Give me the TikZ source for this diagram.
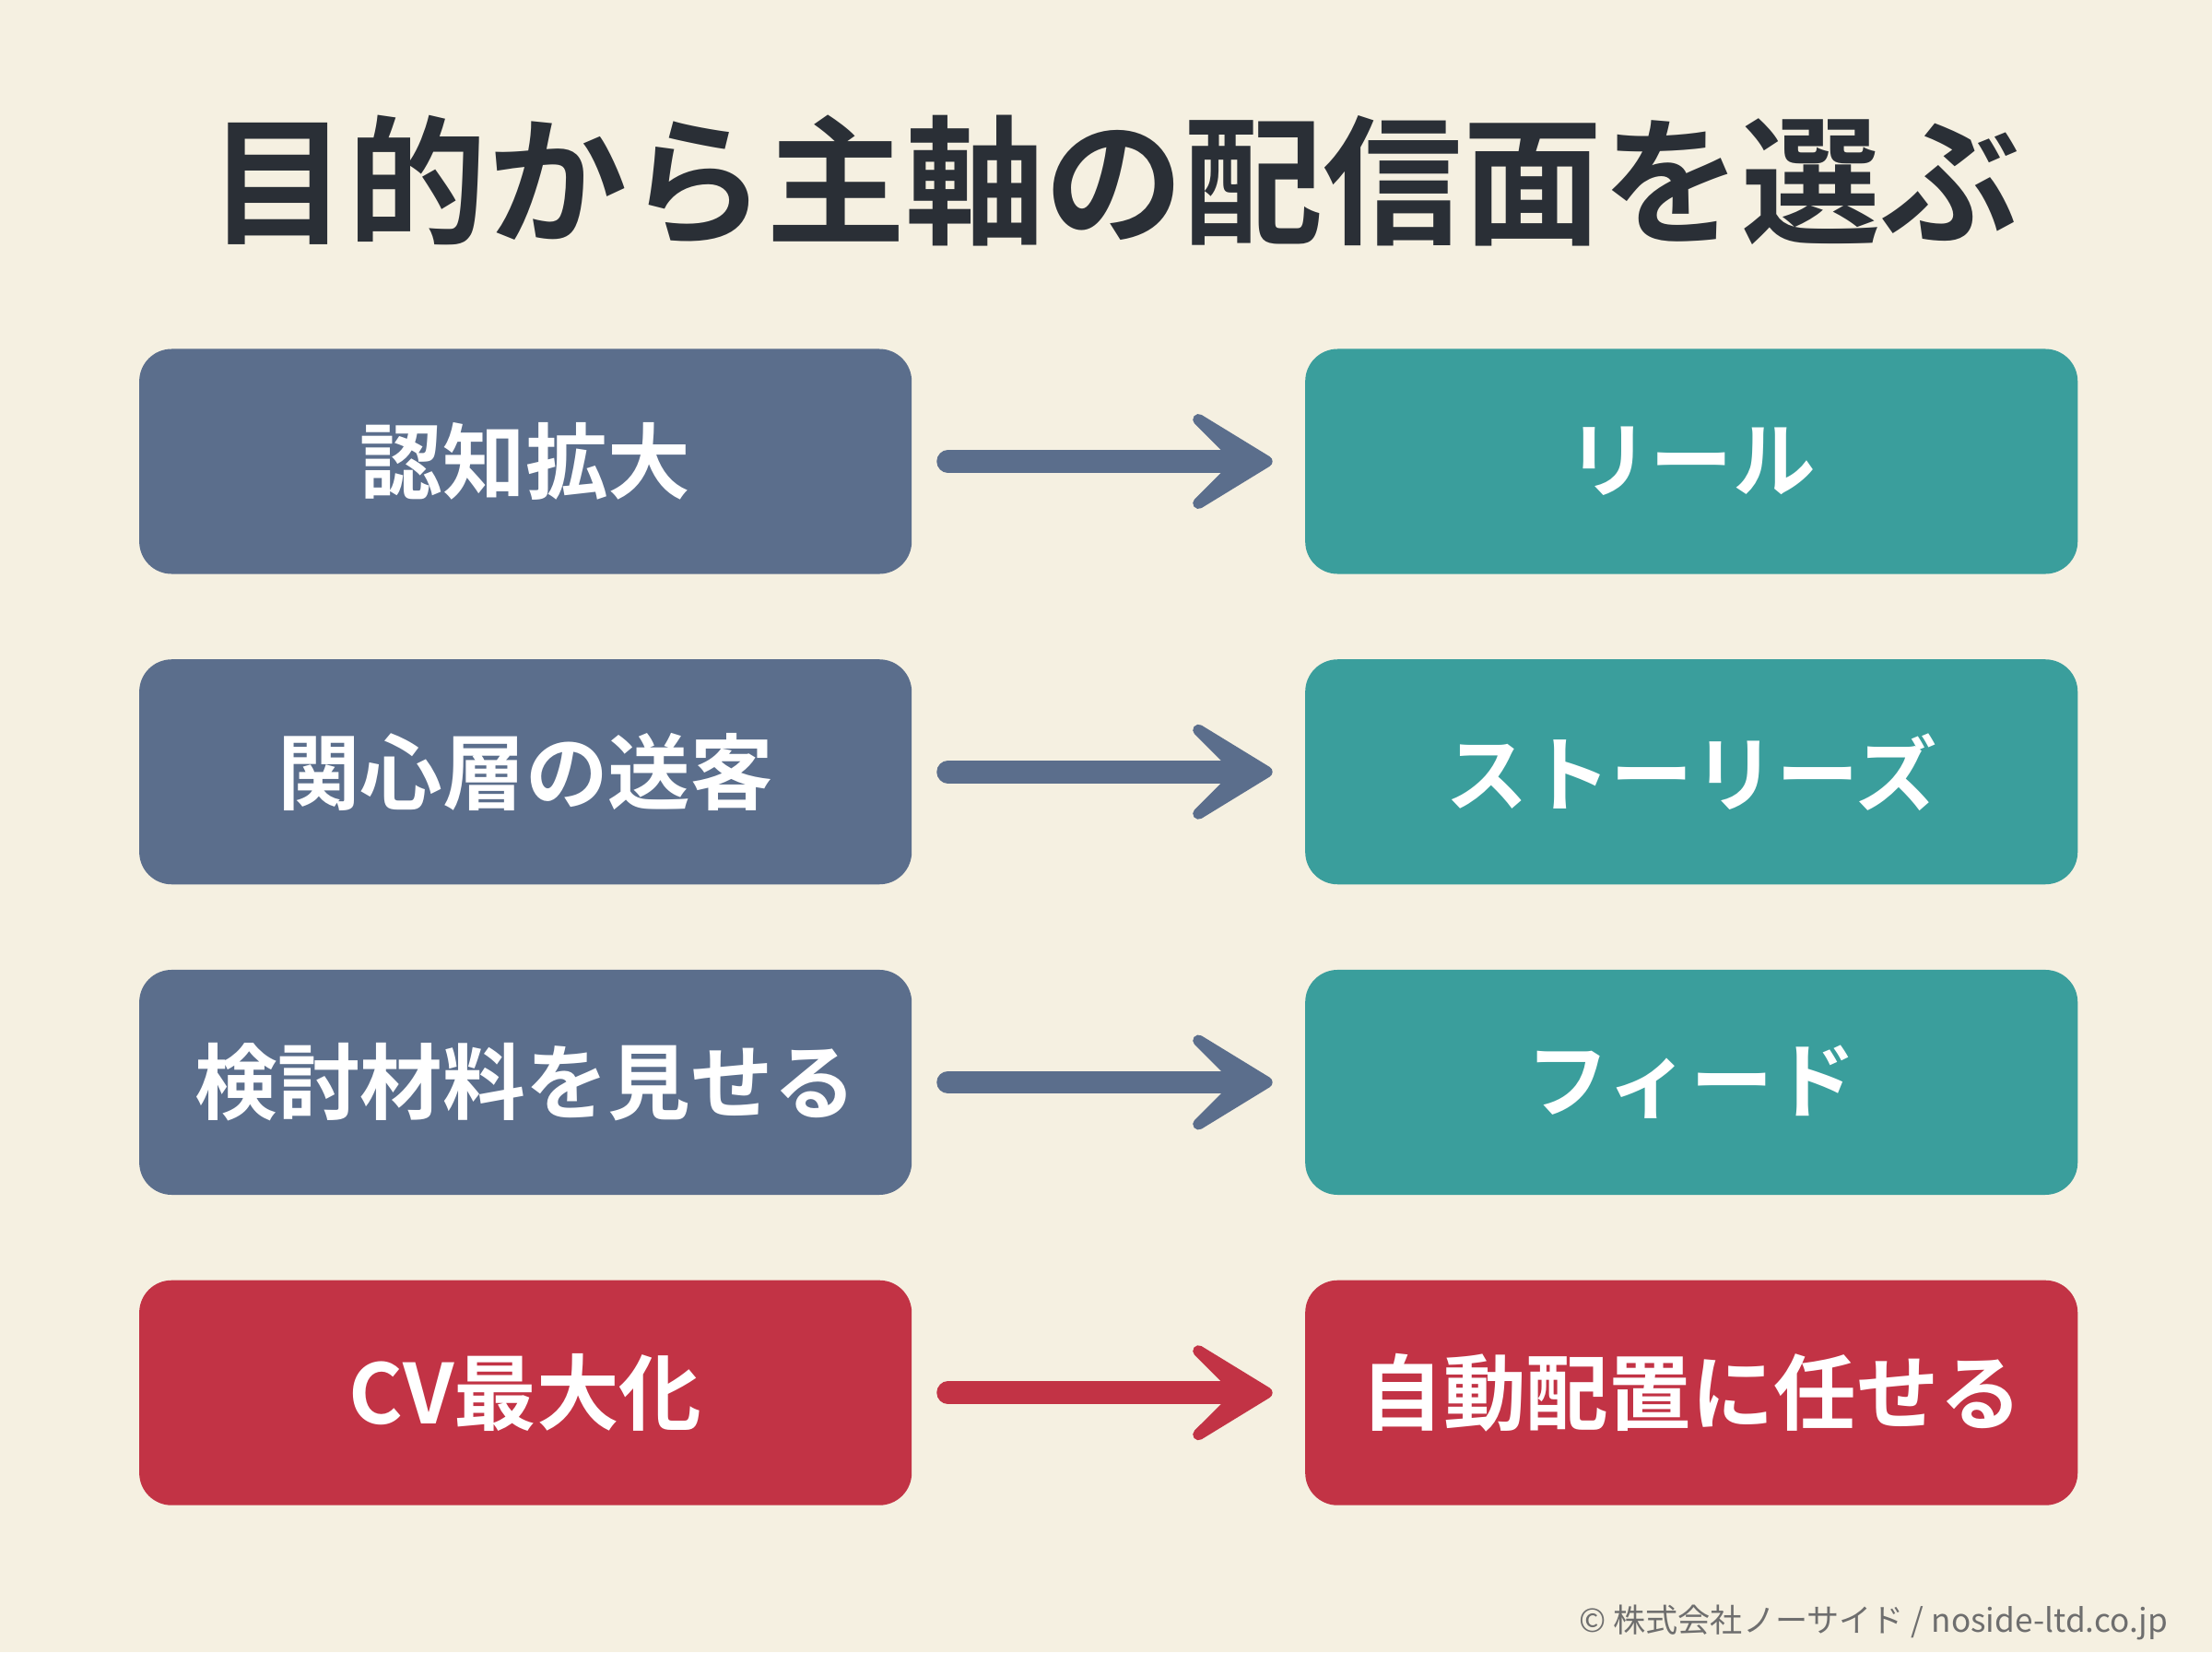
\documentclass[tikz,border=0pt]{standalone}
\usepackage{fontspec}
\setmainfont{Noto Sans CJK JP}
\newfontfamily\jpb{Noto Sans CJK JP Bold}
\usetikzlibrary{arrows.meta}
\definecolor{bgc}{HTML}{F5F0E1}
\definecolor{slate}{HTML}{5B6E8C}
\definecolor{tealc}{HTML}{3A9E9C}
\definecolor{redc}{HTML}{C23345}
\definecolor{titlec}{HTML}{2A2F36}
\definecolor{footc}{HTML}{6E6E6E}
\tikzset{
 box/.style={rounded corners=10pt,minimum width=8.38cm,minimum height=2.44cm,inner sep=0pt,text=white,font=\jpb\fontsize{25.5}{30}\selectfont},
 arr/.style={line width=7pt,line cap=round,-{Stealth[length=36pt,width=44pt,inset=22pt,round]}},
}
\begin{document}
\begin{tikzpicture}[x=0.015306cm,y=-0.015306cm]
\fill[bgc] (0,0) rectangle (1568,1171);
\useasboundingbox (0,0) rectangle (1568,1171);
\node[text=titlec,font=\jpb\fontsize{43}{48}\selectfont] (title) at (790,128) {目的から主軸の配信面を選ぶ};
\foreach \i/\y/\l/\r/\cl/\cr in {1/327/認知拡大/リール/slate/tealc,2/547/関心層の送客/ストーリーズ/slate/tealc,3/767/検討材料を見せる/フィード/slate/tealc,4/987/CV最大化/自動配置に任せる/redc/redc}{
 \node[box,fill=\cl] (l\i) at (372.5,\y) {\l};
 \node[box,fill=\cr] (r\i) at (1199,\y) {\r};
 \coordinate (a\i) at (672,\y);
 \coordinate (b\i) at (902,\y);
 \draw[arr,draw=\cl,fill=\cl] (a\i) -- (b\i);
}
\node[anchor=east,text=footc,font=\fontsize{10}{12}\selectfont] (foot) at (1545,1150) {© 株式会社ノーサイド / noside-ltd.co.jp};
\end{tikzpicture}
\end{document}
